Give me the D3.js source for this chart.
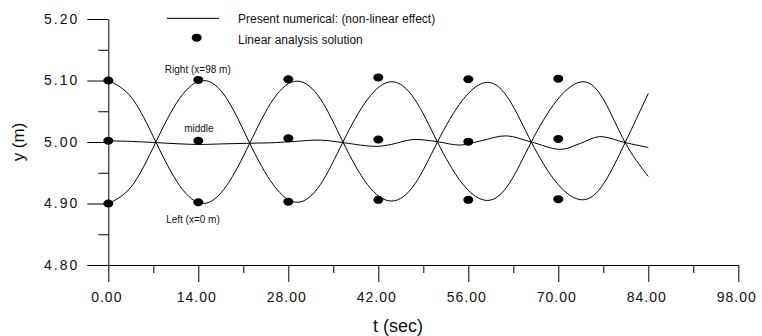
<!DOCTYPE html>
<html><head><meta charset="utf-8">
<script src="https://cdn.jsdelivr.net/npm/d3@7"></script>
<style>
html,body{margin:0;padding:0;background:#fff;}
svg{display:block;font-family:"Liberation Sans",Arial,sans-serif;}
</style></head>
<body><svg id="c" width="762" height="336"></svg>
<script>
// ---- data ----
const xTicks = [0, 14, 28, 42, 56, 70, 84, 98];
const xMinor = [7, 21, 35, 49, 63, 77, 91];
const yTicks = [4.8, 4.9, 5.0, 5.1, 5.2];
const yMinor = [4.85, 4.95, 5.05, 5.15];

const tRight = [0, 3.7, 7.4, 11.1, 14.8, 18.4, 22.0, 25.7, 29.4, 33.0, 36.5, 40.3, 44.1, 47.7, 51.2, 55.1, 59.0, 62.4, 65.8, 69.8, 73.8, 77.1, 80.4, 84.0];
const yRight = [5.100, 5.071, 5.000, 4.929, 4.900, 4.929, 4.998, 5.070, 5.099, 5.070, 5.000, 4.931, 4.904, 4.932, 5.000, 5.068, 5.097, 5.068, 5.000, 4.933, 4.906, 4.933, 4.999, 5.079];
const yLeft  = [4.900, 4.929, 5.000, 5.071, 5.100, 5.071, 4.998, 4.930, 4.902, 4.931, 5.000, 5.069, 5.098, 5.069, 5.000, 4.932, 4.905, 4.933, 5.000, 5.068, 5.098, 5.068, 4.999, 4.944];

const tMiddle = [0, 3.5, 7.4, 11, 14, 18, 22, 26, 29, 33, 36.5, 40, 42, 44, 47.4, 51.2, 54.7, 58, 61.9, 65.8, 70.4, 73.5, 76.4, 80.4, 84];
const yMiddle = [5.002, 5.001, 4.999, 4.997, 4.996, 4.997, 4.998, 4.999, 5.001, 5.003, 4.999, 4.994, 4.993, 4.996, 5.004, 5.0005, 4.995, 5.002, 5.010, 5.000, 4.988, 4.998, 5.0087, 4.999, 4.991];

const tLinear = [0, 14, 28, 42, 56, 70];
const linRight  = [5.100, 5.101, 5.102, 5.105, 5.102, 5.103];
const linMiddle = [5.002, 5.002, 5.006, 5.004, 5.0005, 5.005];
const linLeft   = [4.900, 4.902, 4.903, 4.906, 4.906, 4.907];

const legendLabels = ["Present numerical: (non-linear effect)", "Linear analysis solution"];
const annotations = [
  {text: "Right (x=98 m)", t: 8.8, v: 5.1125},
  {text: "middle", t: 11.8, v: 5.0155},
  {text: "Left (x=0 m)", t: 9.0, v: 4.8685}
];
const xTitle = "t (sec)";
const yTitle = "y (m)";

// ---- drawing ----
const svg = d3.select("#c");
const x = d3.scaleLinear().domain([0, 98]).range([108.3, 738.3]);
const y = d3.scaleLinear().domain([4.8, 5.2]).range([265, 19]);
const fmt = d3.format(".2f");

// minor ticks
svg.append("g").attr("transform", "translate(0,265)")
  .call(d3.axisBottom(x).tickValues(xMinor).tickSize(8).tickSizeOuter(0).tickFormat(""))
  .call(g => g.select(".domain").remove());
svg.append("g").attr("transform", "translate(108.3,0)")
  .call(d3.axisLeft(y).tickValues(yMinor).tickSize(10).tickSizeOuter(0).tickFormat(""))
  .call(g => g.select(".domain").remove());

// major axes
const gx = svg.append("g").attr("transform", "translate(0,265)")
  .call(d3.axisBottom(x).tickValues(xTicks).tickSize(17).tickSizeOuter(0).tickPadding(10).tickFormat(fmt));
gx.selectAll("text").attr("font-size", 14).attr("font-family", "Liberation Sans, Arial, sans-serif")
  .attr("fill", "#111").style("letter-spacing", "1px").attr("dx", -2);

const gy = svg.append("g").attr("transform", "translate(108.3,0)")
  .call(d3.axisLeft(y).tickValues(yTicks).tickSize(21).tickSizeOuter(0).tickPadding(8).tickFormat(fmt));
gy.selectAll("text").attr("font-size", 14).attr("font-family", "Liberation Sans, Arial, sans-serif")
  .attr("fill", "#111").style("letter-spacing", "2px");

svg.selectAll(".tick line, .domain").attr("stroke", "#000").attr("stroke-width", 1);

// axis titles
svg.append("text").attr("x", 398).attr("y", 332).attr("text-anchor", "middle")
  .attr("font-size", 18).attr("fill", "#111").text(xTitle);
svg.append("text").attr("transform", "translate(24,142) rotate(-90)").attr("text-anchor", "middle")
  .attr("font-size", 17).attr("fill", "#111").text(yTitle);

// curves
const lineGen = (ts, vs, curve) => d3.line().x((d, i) => x(ts[i])).y(d => y(d)).curve(curve)(vs);
const plot = svg.append("g");
plot.append("path").attr("d", lineGen(tRight, yRight, d3.curveNatural)).attr("fill", "none").attr("stroke", "#000").attr("stroke-width", 1);
plot.append("path").attr("d", lineGen(tRight, yLeft, d3.curveNatural)).attr("fill", "none").attr("stroke", "#000").attr("stroke-width", 1);
plot.append("path").attr("d", lineGen(tMiddle, yMiddle, d3.curveCatmullRom)).attr("fill", "none").attr("stroke", "#000").attr("stroke-width", 1);

// linear solution dots
[linRight, linMiddle, linLeft].forEach(vals => {
  plot.selectAll(null).data(vals).enter().append("ellipse")
    .attr("cx", (d, i) => x(tLinear[i])).attr("cy", d => y(d))
    .attr("rx", 5).attr("ry", 4).attr("fill", "#000");
});

// annotations
svg.selectAll(null).data(annotations).enter().append("text")
  .attr("x", d => x(d.t)).attr("y", d => y(d.v))
  .attr("font-size", 10).attr("fill", "#111").text(d => d.text);

// legend
const lg = svg.append("g");
lg.append("line").attr("x1", 167).attr("x2", 219).attr("y1", 18.3).attr("y2", 18.3).attr("stroke", "#000");
lg.append("ellipse").attr("cx", 196.7).attr("cy", 37.7).attr("rx", 5).attr("ry", 4).attr("fill", "#000");
lg.selectAll("text").data(legendLabels).enter().append("text")
  .attr("x", 238).attr("y", (d, i) => 23 + i * 21).attr("font-size", 12).attr("fill", "#111").text(d => d);
</script></body></html>
